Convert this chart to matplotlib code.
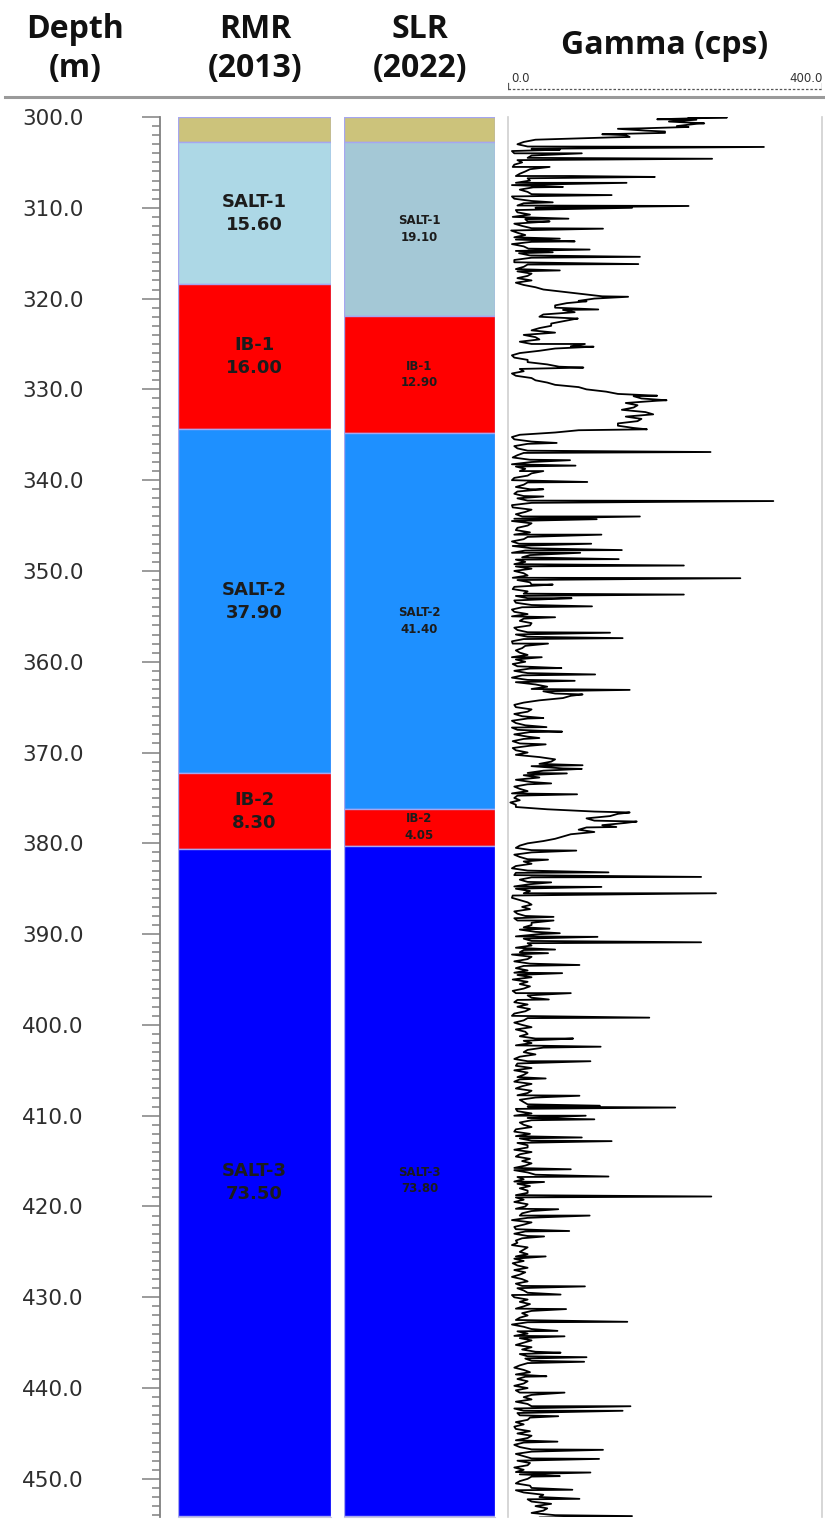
import numpy as np
import matplotlib
matplotlib.use("Agg")
import matplotlib.pyplot as plt
from matplotlib.lines import Line2D

# --- layer picks (thickness in m, listed top to bottom from 300 m) ---
top_depth = 300.0
layer_names = ["", "SALT-1", "IB-1", "SALT-2", "IB-2", "SALT-3"]
rmr_thick = [2.8, 15.60, 16.00, 37.90, 8.30, 73.50]
slr_thick = [2.8, 19.10, 12.90, 41.40, 4.05, 73.80]
rmr_colors = ["#ccc37b", "#add8e6", "#ff0000", "#1e90ff", "#ff0000", "#0000ff"]
slr_colors = ["#ccc37b", "#a4c8d6", "#ff0000", "#1e90ff", "#ff0000", "#0000ff"]

# --- gamma log: background readings at whole and half metres from 300 m ---
gamma_step = 0.5
gamma_base = [
    230, 205, 215, 175, 150, 35, 12, 30, 8, 25, 18, 6, 22, 10, 28, 5, 15, 30, 8, 20,
    35, 12, 6, 25, 18, 4, 22, 10, 5, 26, 14, 30, 8, 20, 12, 25, 30, 20, 45, 95,
    110, 75, 60, 85, 40, 70, 55, 30, 20, 40, 30, 60, 15, 8, 25, 65, 20, 10, 35, 60,
    100, 140, 170, 150, 160, 175, 150, 165, 140, 90, 15, 8, 25, 12, 20, 6, 30, 10, 15, 25,
    5, 20, 28, 8, 12, 30, 6, 22, 18, 5, 25, 10, 8, 20, 14, 30, 5, 18, 22, 10,
    8, 25, 12, 30, 6, 20, 25, 10, 18, 8, 5, 15, 28, 12, 10, 20, 6, 18, 15, 5,
    22, 12, 8, 18, 25, 35, 30, 60, 70, 20, 10, 25, 18, 5, 22, 12, 8, 20, 15, 6,
    25, 40, 55, 30, 45, 20, 10, 25, 15, 5, 8, 3, 10, 110, 130, 110, 120, 90, 80, 60,
    25, 10, 30, 15, 20, 10, 25, 8, 15, 28, 10, 20, 5, 25, 18, 8, 22, 12, 30, 15,
    40, 20, 25, 10, 15, 30, 8, 20, 25, 12, 6, 15, 20, 10, 30, 8, 12, 22, 5, 20,
    18, 10, 25, 35, 30, 45, 20, 15, 25, 10, 8, 20, 15, 30, 10, 25, 35, 20, 25, 12,
    8, 30, 20, 10, 28, 15, 12, 25, 30, 10, 18, 22, 8, 35, 20, 12, 15, 25, 10, 8,
    22, 30, 15, 5, 20, 10, 8, 18, 12, 25, 15, 10, 20, 12, 8, 15, 18, 10, 12, 25,
    8, 15, 20, 30, 25, 10, 5, 30, 25, 15, 20, 30, 35, 25, 30, 15, 20, 10, 12, 20,
    25, 15, 20, 10, 30, 20, 15, 25, 20, 10, 12, 25, 20, 15, 30, 20, 12, 25, 20, 15,
    25, 10, 30, 20, 40, 30, 35, 45, 60, 80,
]
# readings at the quarter points (300.25, 300.75, ...)
gamma_mid = [
    190, 240, 170, 200, 130, 20, 25, 5, 30, 12, 8, 28, 15, 25, 10, 32, 25, 5, 30, 12,
    10, 28, 22, 8, 30, 12, 8, 30, 20, 10, 28, 8, 25, 10, 30, 12, 10, 35, 70, 120,
    90, 60, 70, 45, 85, 55, 40, 60, 35, 15, 80, 40, 5, 25, 50, 15, 5, 30, 50, 90,
    125, 160, 190, 165, 145, 185, 170, 140, 160, 60, 5, 30, 8, 25, 12, 28, 5, 22, 30, 8,
    25, 10, 12, 20, 25, 5, 30, 10, 8, 30, 12, 28, 25, 5, 6, 22, 28, 10, 8, 30,
    20, 6, 28, 8, 25, 10, 8, 30, 5, 25, 20, 30, 8, 25, 25, 5, 22, 10, 25, 10,
    6, 28, 25, 5, 10, 50, 45, 80, 40, 8, 30, 8, 25, 10, 5, 28, 25, 6, 28, 10,
    10, 60, 40, 70, 25, 40, 30, 8, 25, 12, 15, 10, 50, 140, 100, 150, 100, 110, 70, 45,
    15, 30, 8, 25, 30, 5, 10, 30, 25, 8, 28, 6, 15, 30, 28, 12, 8, 30, 20, 35,
    10, 30, 30, 20, 5, 25, 28, 10, 8, 30, 25, 28, 6, 25, 12, 25, 28, 8, 25, 8,
    30, 22, 15, 20, 10, 25, 35, 8, 12, 30, 25, 12, 8, 18, 30, 12, 15, 25, 10, 30,
    25, 15, 30, 8, 10, 30, 25, 8, 15, 28, 30, 8, 25, 12, 8, 28, 25, 10, 20, 25,
    10, 18, 25, 30, 8, 22, 25, 10, 5, 20, 25, 8, 6, 25, 22, 5, 25, 18, 20, 5,
    25, 28, 10, 18, 15, 25, 20, 12, 8, 30, 10, 18, 15, 22, 25, 8, 28, 22, 25, 8,
    10, 30, 30, 25, 8, 12, 28, 10, 8, 28, 30, 10, 8, 30, 10, 30, 28, 8, 10, 30,
    15, 28, 10, 45, 25, 55, 50, 30, 40, 30,
]

# --- gamma log: sharp peaks (depth m, cps) ---
peak_depth = [
    300.05, 300.3, 300.7, 301.1, 301.3, 301.6, 301.9, 302.2,
    303.3, 303.6, 304.0, 304.6, 305.5, 306.5, 306.6, 307.25, 307.7, 308.6,
    309.4, 309.8, 310.0, 311.2, 311.5, 312.3, 313.4, 313.7, 314.6, 314.9,
    315.4, 316.2, 316.9, 319.8, 320.3, 321.2, 322.2, 325.0, 325.3, 327.6,
    330.7, 331.2, 334.4, 335.9, 336.9, 337.8, 338.4, 339.0, 340.2, 341.0,
    341.8, 342.3, 344.0, 344.3, 346.0, 347.0, 347.7, 348.0, 348.7, 349.4,
    350.8, 351.5, 352.6, 353.0, 353.9, 355.1, 356.8, 357.4, 358.0, 359.5,
    360.7, 361.4, 362.1, 363.1, 363.6, 366.2, 367.2, 367.7, 368.4, 369.1,
    371.4, 371.8, 372.3, 373.4, 374.6, 376.6, 377.6, 378.2, 380.8, 381.8,
    383.2, 383.7, 384.3, 384.8, 385.5, 388.1, 388.5, 389.4, 389.9, 390.3,
    390.9, 391.7, 392.1, 393.4, 394.3, 396.5, 397.2, 399.2, 401.5, 402.4,
    404.0, 405.9, 407.8, 408.9, 409.1, 410.0, 410.4, 412.4, 412.8, 415.9,
    416.7, 417.3, 418.9, 420.3, 421.0, 422.7, 423.3, 425.5, 428.8, 429.7,
    431.3, 432.7, 433.7, 434.3, 436.1, 436.6, 437.1, 438.7, 440.5, 442.0,
    442.5, 443.1, 445.9, 446.8, 447.8, 449.3, 449.7, 451.2, 452.2, 454.1,
]
peak_cps = [
    279, 240, 250, 230, 140, 200, 120, 155,
    326, 66, 94, 260, 53, 81, 187, 151, 70, 132,
    57, 230, 158, 77, 53, 121, 66, 85, 104, 57,
    168, 166, 66, 153, 100, 115, 89, 98, 109, 96,
    190, 202, 177, 62, 258, 79, 86, 45, 101, 45,
    45, 338, 168, 113, 119, 106, 145, 92, 141, 224,
    296, 57, 224, 81, 107, 60, 130, 146, 51, 43,
    68, 111, 85, 155, 95, 45, 49, 69, 40, 48,
    95, 94, 75, 55, 88, 155, 164, 138, 87, 51,
    128, 246, 55, 119, 265, 58, 58, 53, 66, 114,
    246, 60, 51, 91, 69, 80, 52, 180, 83, 118,
    105, 48, 91, 117, 213, 99, 110, 94, 132, 80,
    128, 46, 259, 64, 104, 78, 46, 48, 98, 67,
    74, 152, 63, 72, 67, 100, 97, 49, 72, 156,
    146, 64, 63, 121, 116, 105, 66, 82, 91, 158,
]

ymin, ymax = 300.0, 454.2
W, H = 825, 1522


def fx(px):
    return px / W


def fy(py):
    return 1 - py / H


plot_top, plot_bot = 117, 1517
ax_bottom = fy(plot_bot)
ax_height = (plot_bot - plot_top) / H

header_font = "Open Sans"
fig = plt.figure(figsize=(W / 100, H / 100), dpi=100)

# depth scale
ax_d = fig.add_axes([fx(160), ax_bottom, 0.0005, ax_height])
ax_d.set_ylim(ymax, ymin)
for s in ["top", "right", "bottom"]:
    ax_d.spines[s].set_visible(False)
ax_d.spines["left"].set_color("#808080")
ax_d.spines["left"].set_linewidth(1.3)
ax_d.set_xticks([])
ax_d.set_yticks(np.arange(300, 451, 10))
ax_d.set_yticks(np.arange(300, 455, 1), minor=True)
ax_d.set_yticklabels([f"{v:.1f}" for v in np.arange(300, 451, 10)])
ax_d.tick_params(axis="y", which="major", length=13, width=1.1, color="#808080",
                 pad=42, labelsize=15.5, labelcolor="#2e2e2e")
ax_d.tick_params(axis="y", which="minor", length=6, width=1.1, color="#808080")


def draw_column(left_px, right_px, thick, colors, fsize):
    ax = fig.add_axes([fx(left_px), ax_bottom, (right_px - left_px) / W, ax_height])
    ax.set_xlim(0, 1)
    ax.set_ylim(ymax, ymin)
    tops = top_depth + np.concatenate([[0], np.cumsum(thick)[:-1]])
    ax.bar(0.5, thick, bottom=tops, width=1.0, color=colors,
           edgecolor="#a6a6f0", linewidth=1.0)
    for name, t, h in zip(layer_names, tops, thick):
        if name:
            ax.text(0.5, t + h / 2, f"{name}\n{h:.2f}", ha="center", va="center",
                    fontsize=fsize, fontweight="bold", color="#1c1c1c",
                    linespacing=1.35)
    ax.set_xticks([])
    ax.set_yticks([])
    for s in ["top", "left", "right"]:
        ax.spines[s].set_visible(False)
    ax.spines["bottom"].set_color("#c8c8e0")
    return ax


draw_column(178, 331, rmr_thick, rmr_colors, 13)
draw_column(344, 495, slr_thick, slr_colors, 8.5)

# gamma track
ax_g = fig.add_axes([fx(508), ax_bottom, (822 - 508) / W, ax_height])
n = len(gamma_base)
g_depth = np.concatenate([top_depth + gamma_step * np.arange(n),
                          top_depth + gamma_step * (np.arange(len(gamma_mid)) + 0.5),
                          peak_depth])
g_cps = np.concatenate([gamma_base, gamma_mid, peak_cps])
order = np.argsort(g_depth, kind="stable")
ax_g.plot(g_cps[order], g_depth[order], color="black", linewidth=1.3)
ax_g.set_xlim(0, 400)
ax_g.set_ylim(ymax, ymin)
ax_g.set_xticks([])
ax_g.set_yticks([])
for s in ["top", "bottom"]:
    ax_g.spines[s].set_visible(False)
for s in ["left", "right"]:
    ax_g.spines[s].set_color("#cfcfcf")
    ax_g.spines[s].set_linewidth(1.2)

# gamma scale bar in the header
ax_s = fig.add_axes([fx(508), fy(92), (822 - 508) / W, 10 / H])
ax_s.set_xlim(0, 400)
ax_s.set_ylim(0, 1)
ax_s.axis("off")
ax_s.plot([0, 400], [0.3, 0.3], color="#555555", linewidth=0.9, linestyle=(0, (2, 1.5)))
ax_s.plot([0, 0], [0.3, 0.9], color="#555555", linewidth=0.9)
ax_s.plot([400, 400], [0.3, 0.9], color="#555555", linewidth=0.9)
fig.text(fx(511), fy(85), "0.0", ha="left", va="bottom", fontsize=8.5, color="#333333")
fig.text(fx(823), fy(85), "400.0", ha="right", va="bottom", fontsize=8.5, color="#333333")

# column headers
hdr = dict(ha="center", va="center", fontsize=23, fontweight="bold",
           family=header_font, color="#111111", linespacing=1.2)
fig.text(fx(75), fy(49), "Depth\n(m)", **hdr)
fig.text(fx(255), fy(49), "RMR\n(2013)", **hdr)
fig.text(fx(420), fy(49), "SLR\n(2022)", **hdr)
fig.text(fx(665), fy(45), "Gamma (cps)", **hdr)

fig.add_artist(Line2D([fx(5), fx(825)], [fy(97), fy(97)], color="#9a9a9a", linewidth=2.2))

fig.savefig("out.png", dpi=100)
